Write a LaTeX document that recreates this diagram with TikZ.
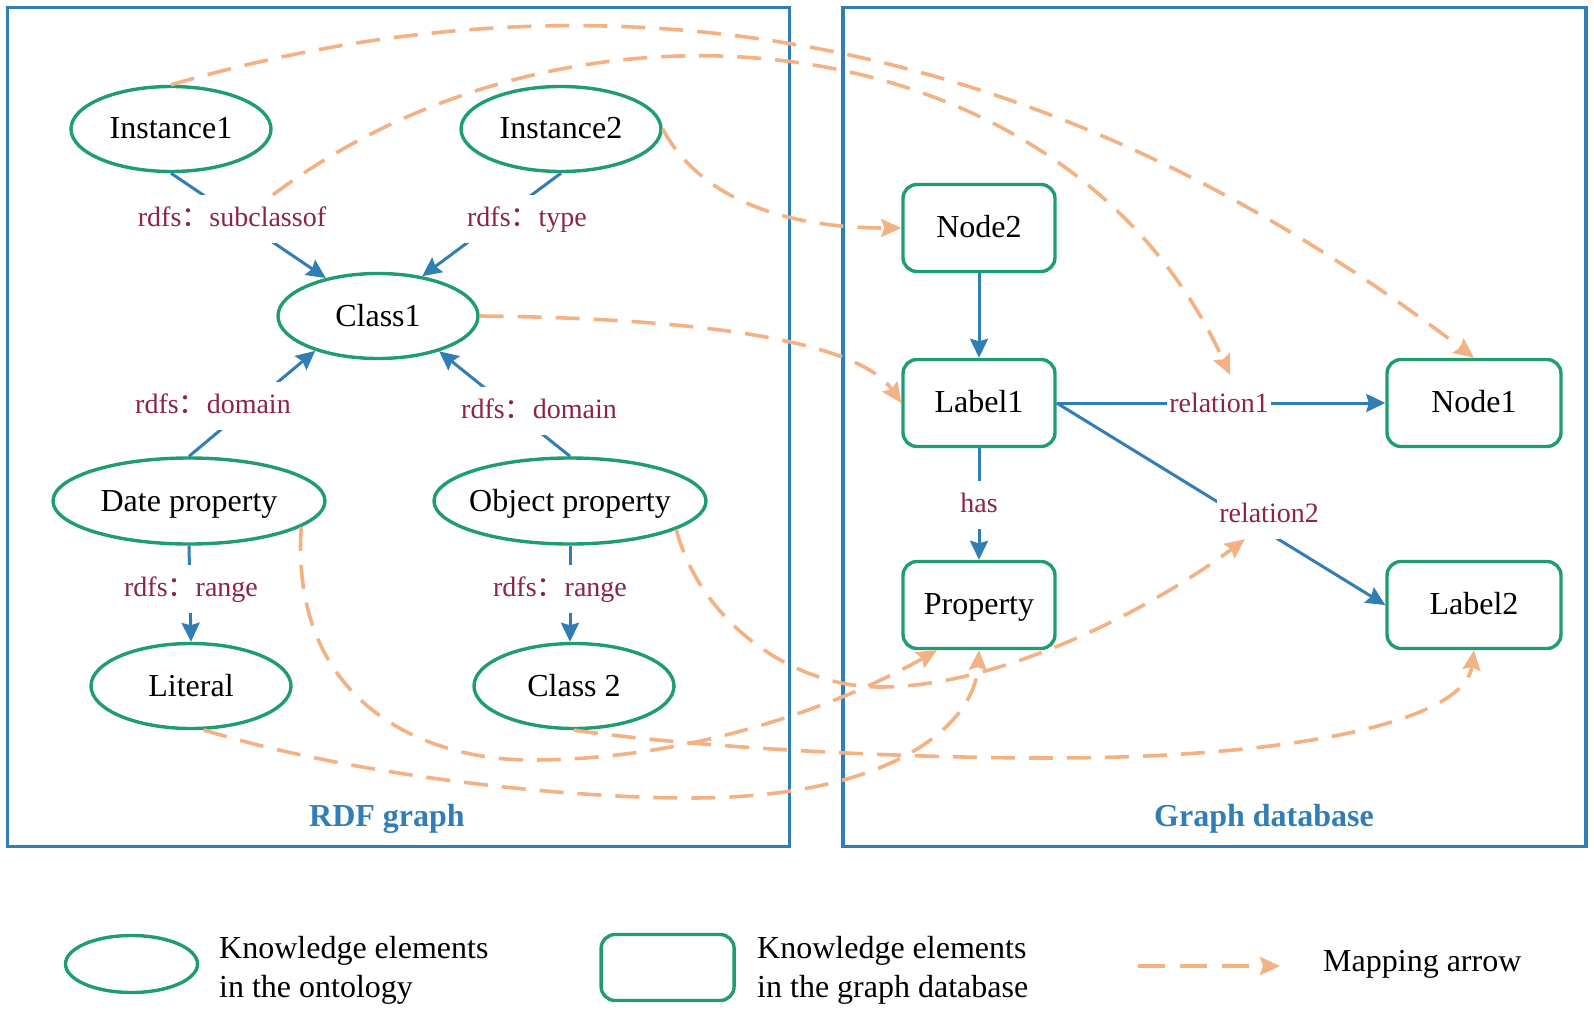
\documentclass[tikz,border=0pt]{standalone}
\usepackage{fontspec}
\setmainfont{Liberation Serif}
\newfontfamily\cjk{Noto Sans CJK SC}
\usetikzlibrary{arrows.meta,shapes.geometric}
\definecolor{fblue}{RGB}{49,125,181}
\definecolor{egreen}{RGB}{32,156,113}
\definecolor{morange}{RGB}{244,177,131}
\definecolor{lred}{RGB}{142,35,67}
\begin{document}
\begin{tikzpicture}[x=1pt,y=-1pt,
  onto/.style={ellipse, draw=egreen, line width=3.4pt, inner sep=0pt, minimum width=200pt, minimum height=85pt, text height=20pt, text depth=0pt, font=\fontsize{32}{38}\selectfont},
  gdb/.style={rectangle, rounded corners=14pt, draw=egreen, line width=3.4pt, minimum width=152pt, minimum height=87pt, inner sep=0pt, text height=19pt, text depth=0pt, font=\fontsize{32}{38}\selectfont},
  frame/.style={draw=fblue, line width=3.3pt},
  edge/.style={draw=fblue, line width=3pt, -{Stealth[length=19pt,width=18pt,inset=2.5pt]}},
  lab/.style={fill=white, text=lred, font=\fontsize{28}{30}\selectfont, inner xsep=2pt, inner ysep=11pt, text height=20pt, text depth=6pt},
  mapping/.style={draw=morange, line width=3.6pt, dash pattern=on 24pt off 14pt, -{Stealth[length=20pt,width=18pt,inset=3pt]}},
  ttl/.style={text=fblue, font=\fontsize{32}{38}\selectfont\bfseries},
  legtext/.style={anchor=base west, inner sep=0pt, font=\fontsize{32}{38}\selectfont}
]
\useasboundingbox (0,0) rectangle (1594,1011);

% frames
\draw[frame] (7.5,7.5) rectangle (789.5,846.5);
\draw[frame] (843,7.5) rectangle (1586,846.5);
\node[ttl] (tRDF) at (387,819) {RDF graph};
\node[ttl] (tGDB) at (1264,819) {Graph database};

% ontology nodes
\node[onto] (Instance1) at (171,129) {\makebox[0pt]{Instance1}};
\node[onto] (Instance2) at (561,129) {\makebox[0pt]{Instance2}};
\node[onto] (Class1) at (378,316) {\makebox[0pt]{Class1}};
\node[onto, minimum width=272pt, minimum height=86pt] (Date) at (189,501) {\makebox[0pt]{Date property}};
\node[onto, minimum width=272pt, minimum height=86pt] (Object) at (570,501) {\makebox[0pt]{Object property}};
\node[onto] (Literal) at (191,686) {\makebox[0pt]{Literal}};
\node[onto] (Class2) at (574,686) {\makebox[0pt]{Class 2}};

% graph database nodes
\node[gdb] (Node2) at (979,228) {Node2};
\node[gdb] (Label1) at (979,403) {Label1};
\node[gdb] (Property) at (979,605) {Property};
\node[gdb, minimum width=174pt] (Node1) at (1474,403) {Node1};
\node[gdb, minimum width=174pt] (Label2) at (1474,605) {Label2};

% blue edges
\draw[edge] (Instance1.south) -- (Class1.144);
\draw[edge] (Instance2.south) -- (Class1.42);
\draw[edge] (Date.north) -- (Class1.209);
\draw[edge] (Object.north) -- (Class1.-30);
\draw[edge] (Date.south) -- (Literal.north);
\draw[edge] (Object.south) -- (Object.south |- Class2.north);
\draw[edge] (Node2.south) -- (Label1.north);
\draw[edge] (Label1.south) -- (Property.north);
\draw[edge] (Label1.east) -- (Node1.west);
\draw[edge] (Label1.east) -- (Label2.west);

% edge labels
\node[lab] (lsub) at (232,219) {rdfs{\cjk ：}subclassof};
\node[lab] (ltype) at (527,219) {rdfs{\cjk ：}type};
\node[lab] (ldomL) at (213,406) {rdfs{\cjk ：}domain};
\node[lab] (ldomR) at (539,411) {rdfs{\cjk ：}domain};
\node[lab] (lrangeL) at (191,589) {rdfs{\cjk ：}range};
\node[lab] (lrangeR) at (560,589) {rdfs{\cjk ：}range};
\node[lab] (lhas) at (979,505) {has};
\node[lab] (lrel1) at (1219,405) {relation1};
\node[lab] (lrel2) at (1269,515) {relation2};

% mapping arrows
\coordinate (subTop) at ([xshift=41pt]lsub.north);
\coordinate (rel1Top) at ([xshift=11pt,yshift=6pt]lrel1.north);
\coordinate (rel2Bot) at ([xshift=-24pt]lrel2.south);
\coordinate (propBL) at ([xshift=-42pt]Property.south);
\draw[mapping] (Instance1.north) .. controls (629,-48) and (1062,44) .. (Node1.north);
\draw[mapping] (subTop) .. controls (577,-33) and (1066,17) .. (rel1Top);
\draw[mapping] (Instance2.east) .. controls +(33,62) and +(-130,0) .. (Node2.west);
\draw[mapping] (Class1.east) .. controls +(200,2) and +(-46,-66) .. (Label1.west);
\draw[mapping] (Date.-13) .. controls (290,700) and (420,760) .. (531,760) .. controls (700,760) and (850,700) .. (propBL);
\draw[mapping] (Object.-15) .. controls (700,620) and (790,687) .. (880,687) .. controls (1000,687) and (1150,610) .. (rel2Bot);
\draw[mapping] (Literal.-74) .. controls (350,775) and (560,798) .. (690,798) .. controls (900,798) and (975,720) .. (Property.south);
\draw[mapping] (Class2.south) .. controls (700,748) and (900,758) .. (1050,758) .. controls (1300,758) and (1465,720) .. (Label2.south);

% legend
\node[onto, minimum width=132pt, minimum height=57pt] (legO) at (131.5,964) {};
\node[legtext] (legO1) at (219,958) {Knowledge elements};
\node[legtext] (legO2) at (219,997) {in the ontology};
\node[gdb, minimum width=133pt, minimum height=66pt] (legG) at (667.6,967.5) {};
\node[legtext] (legG1) at (757,958) {Knowledge elements};
\node[legtext] (legG2) at (757,997) {in the graph database};
\coordinate (legA1) at (1138,966);
\coordinate (legA2) at (1280,966);
\draw[mapping, dash pattern=on 27pt off 15pt] (legA1) -- (legA2);
\node[legtext] (legM) at (1323,971) {Mapping arrow};
\end{tikzpicture}
\end{document}
